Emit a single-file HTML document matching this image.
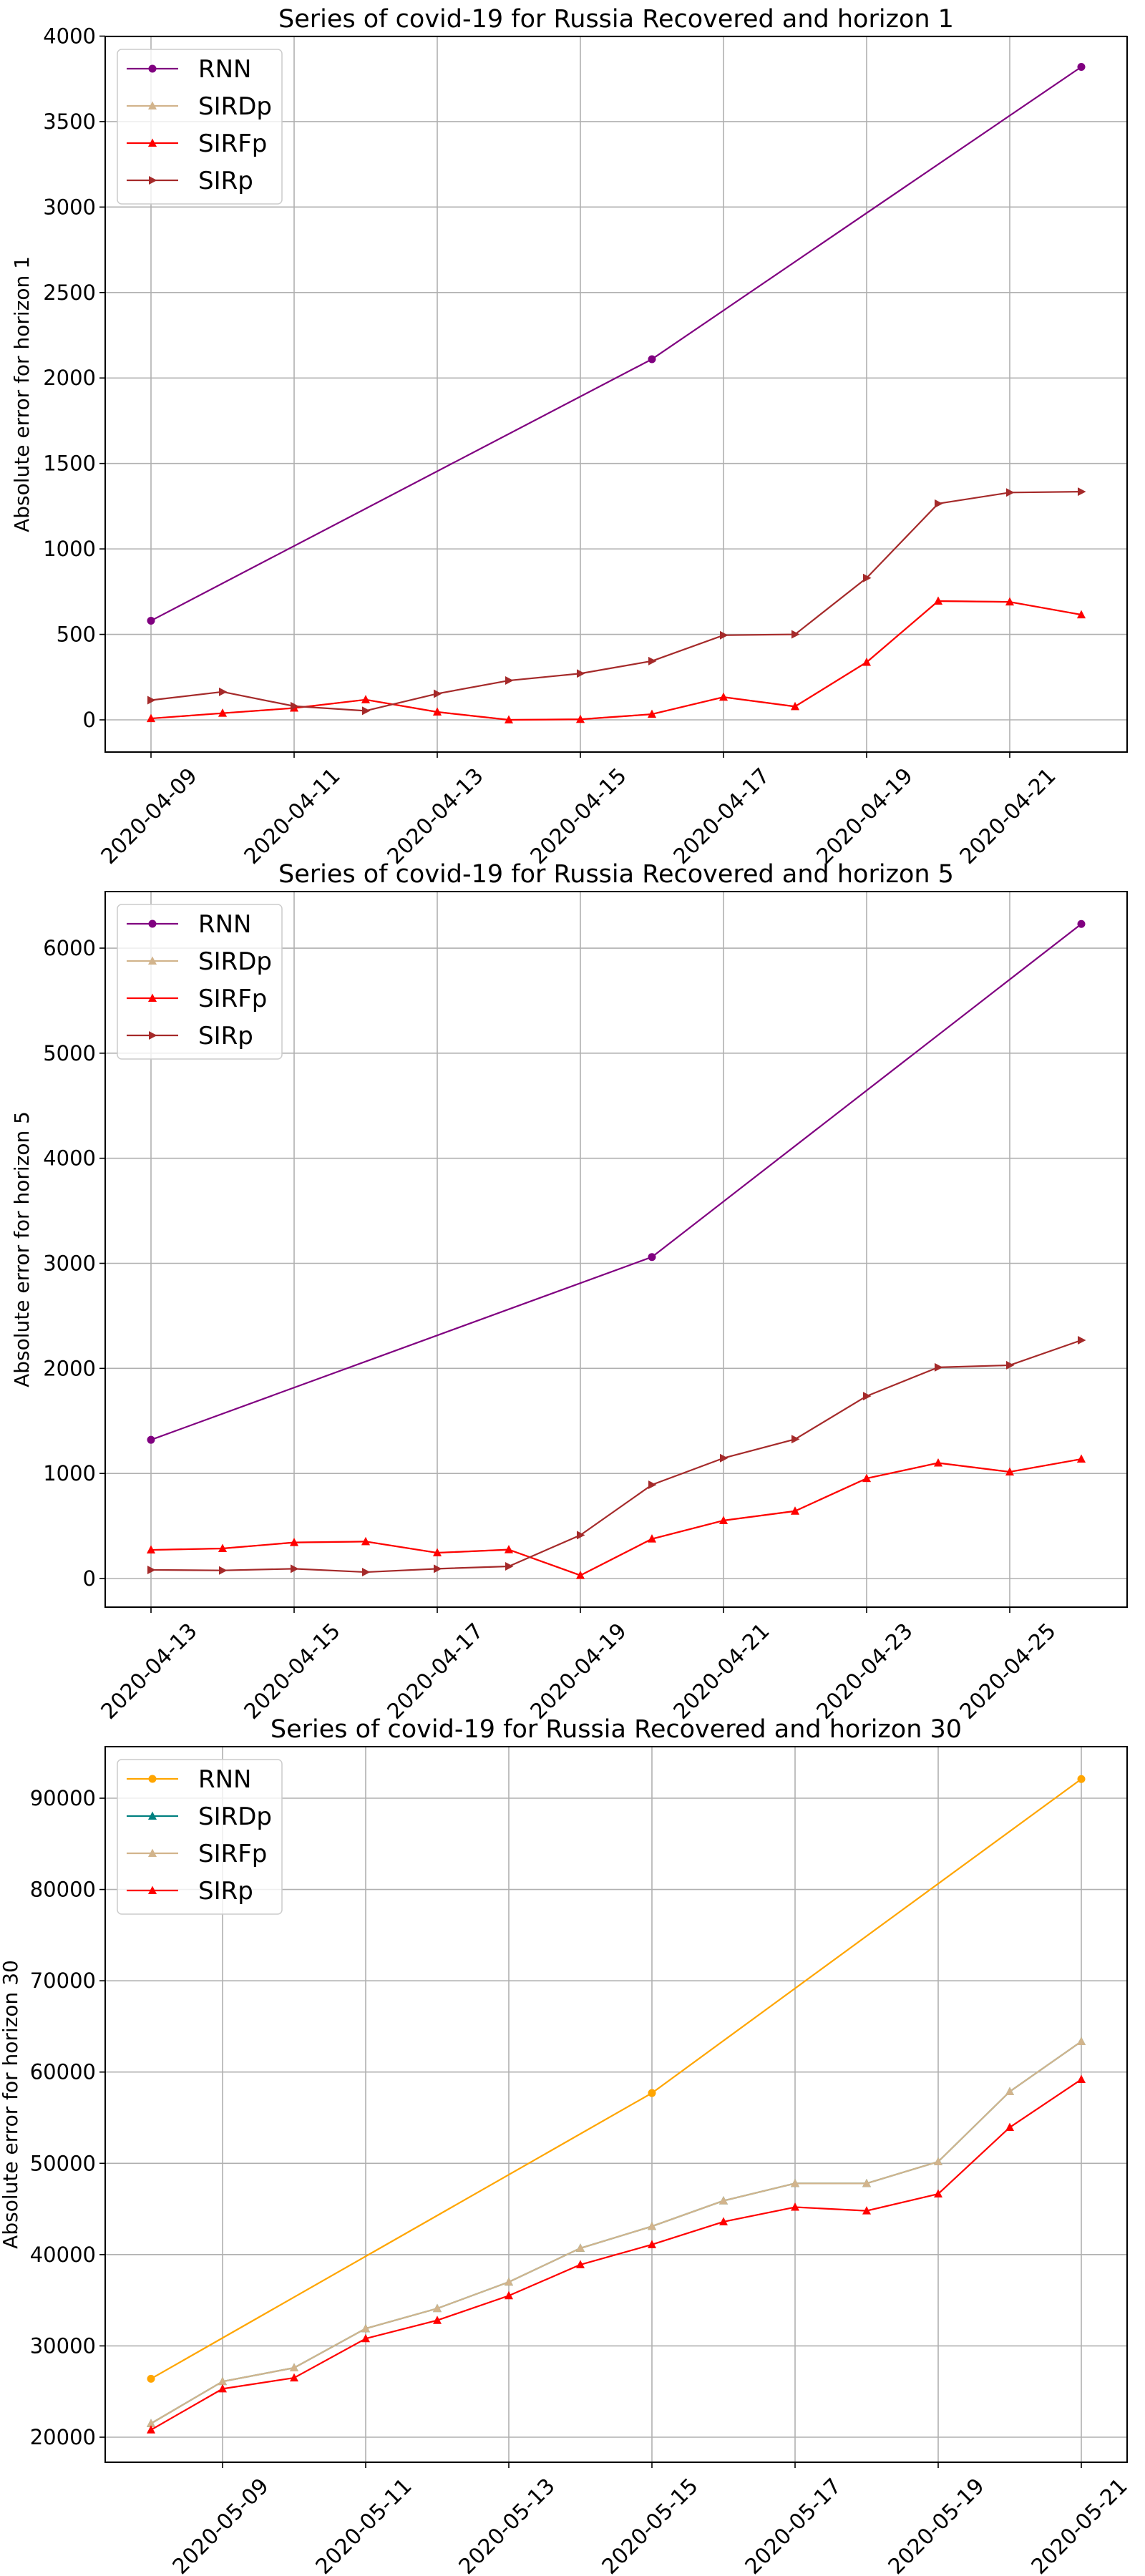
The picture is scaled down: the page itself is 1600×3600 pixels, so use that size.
<!DOCTYPE html>
<html><head><meta charset="utf-8">
<style>
html,body{margin:0;padding:0;background:#fff;}
svg{display:block;font-family:"DejaVu Sans","Liberation Sans",sans-serif;}
</style></head>
<body>
<svg id="fig" width="1600" height="3600" viewBox="0 0 1600 3600" xmlns="http://www.w3.org/2000/svg"></svg>
<script>
// ---- Chart 1 data (horizon 1) ----
const dates1 = ["2020-04-09","2020-04-10","2020-04-11","2020-04-12","2020-04-13","2020-04-14","2020-04-15","2020-04-16","2020-04-17","2020-04-18","2020-04-19","2020-04-20","2020-04-21","2020-04-22"];
const ticks1 = ["2020-04-09","2020-04-11","2020-04-13","2020-04-15","2020-04-17","2020-04-19","2020-04-21"];
const yticks1 = [0,500,1000,1500,2000,2500,3000,3500,4000];
const rnnIdx1 = [0,7,13];
const rnn1 = [580,2110,3820];
const sirdp1 = [8,39,69,118,46,0,3,33,133,78,337,695,690,615];
const sirfp1 = [8,39,69,118,46,0,3,33,133,78,337,695,690,615];
const sirp1 = [115,164,80,53,153,230,271,344,495,500,830,1265,1330,1335];

// ---- Chart 2 data (horizon 5) ----
const dates2 = ["2020-04-13","2020-04-14","2020-04-15","2020-04-16","2020-04-17","2020-04-18","2020-04-19","2020-04-20","2020-04-21","2020-04-22","2020-04-23","2020-04-24","2020-04-25","2020-04-26"];
const ticks2 = ["2020-04-13","2020-04-15","2020-04-17","2020-04-19","2020-04-21","2020-04-23","2020-04-25"];
const yticks2 = [0,1000,2000,3000,4000,5000,6000];
const rnnIdx2 = [0,7,13];
const rnn2 = [1320,3060,6230];
const sirdp2 = [272,286,343,352,245,275,30,377,552,642,953,1100,1015,1137];
const sirfp2 = [272,286,343,352,245,275,30,377,552,642,953,1100,1015,1137];
const sirp2 = [82,77,93,61,93,116,413,892,1146,1326,1736,2010,2030,2268];

// ---- Chart 3 data (horizon 30) ----
const dates3 = ["2020-05-08","2020-05-09","2020-05-10","2020-05-11","2020-05-12","2020-05-13","2020-05-14","2020-05-15","2020-05-16","2020-05-17","2020-05-18","2020-05-19","2020-05-20","2020-05-21"];
const ticks3 = ["2020-05-09","2020-05-11","2020-05-13","2020-05-15","2020-05-17","2020-05-19","2020-05-21"];
const yticks3 = [20000,30000,40000,50000,60000,70000,80000,90000];
const rnnIdx3 = [0,7,13];
const rnn3 = [26400,57700,92100];
const sirdp3 = [21500,26100,27600,31900,34100,37000,40700,43100,45900,47800,47800,50180,57860,63350];
const sirfp3 = [21500,26100,27600,31900,34100,37000,40700,43100,45900,47800,47800,50180,57860,63350];
const sirp3 = [20800,25300,26500,30800,32800,35500,38900,41100,43600,45200,44800,46650,53940,59190];

const NS = "http://www.w3.org/2000/svg";
const fig = document.getElementById('fig');
function mk(tag, attrs, parent){
  const e = document.createElementNS(NS, tag);
  for (const k in attrs) e.setAttribute(k, attrs[k]);
  (parent||fig).appendChild(e);
  return e;
}

function marker(g, shape, cx, cy, color){
  let e;
  if (shape === 'o') {
    e = mk('circle', {cx:cx, cy:cy, r:5.5, fill:color}, g);
  } else if (shape === '^') {
    e = mk('polygon', {points:`${cx},${cy-6.5} ${cx-6},${cy+5} ${cx+6},${cy+5}`, fill:color}, g);
  } else {
    e = mk('polygon', {points:`${cx+6.5},${cy} ${cx-5},${cy-6} ${cx-5},${cy+6}`, fill:color}, g);
  }
  
  
}

function chart(o){
  const L = 147, R = 1575, T = o.top, B = o.top + 1000;
  const xDay = i => 211 + i*100;
  const yv = v => o.y0px - (v - o.y0val) * o.scale;
  const g = mk('g', {});
  
  

  const title = mk('text', {x:(L+R)/2, y:T-13, 'text-anchor':'middle', 'font-size':35, fill:'#000'}, g);
  title.textContent = o.title;
  
  

  const dates = o.dates;
  o.ticks.forEach(t => {
    const x = xDay(dates.indexOf(t));
    const gl = mk('line', {x1:x, x2:x, y1:T, y2:B, stroke:'#b0b0b0', 'stroke-width':1.6}, g);
    
    
    mk('line', {x1:x, x2:x, y1:B, y2:B+8, stroke:'#000', 'stroke-width':1.6}, g);
    const tx = x + 66, ty = B + 35;
    const lab = mk('text', {x:tx, y:ty, 'text-anchor':'end', 'font-size':30, transform:`rotate(-45 ${tx} ${ty})`}, g);
    lab.textContent = t;
    
    
  });
  o.yticks.forEach(v => {
    const y = yv(v);
    const gl = mk('line', {x1:L, x2:R, y1:y, y2:y, stroke:'#b0b0b0', 'stroke-width':1.6}, g);
    
    
    mk('line', {x1:L-8, x2:L, y1:y, y2:y, stroke:'#000', 'stroke-width':1.6}, g);
    const lab = mk('text', {x:L-13, y:y+10, 'text-anchor':'end', 'font-size':29}, g);
    lab.textContent = String(v);
    
    
  });
  const yl = mk('text', {x:0, y:0, 'text-anchor':'middle', 'font-size':28, transform:`translate(${o.ylx} ${(T+B)/2}) rotate(-90)`}, g);
  yl.textContent = o.ylabel;
  
  

  o.series.forEach(s => {
    const sg = mk('g', {}, g);
    
    
    const pts = s.vals.map((v,k) => [xDay(s.idx ? s.idx[k] : k), yv(v)]);
    const pl = mk('polyline', {points:pts.map(p=>p.join(',')).join(' '), fill:'none', stroke:s.color, 'stroke-width':2.2, 'stroke-linejoin':'round'}, sg);
    
    
    pts.forEach(p => marker(sg, s.shape, p[0], p[1], s.color));
  });

  const fr = mk('rect', {x:L, y:T, width:R-L, height:B-T, fill:'none', stroke:'#000', 'stroke-width':2}, g);
  
  

  const lg = mk('g', {}, g);
  
  
  const lx = 164, ly = T + 18;
  mk('rect', {x:lx, y:ly, width:230, height:216, rx:6, fill:'#fff', 'fill-opacity':0.8, stroke:'#ccc', 'stroke-width':1.5}, lg);
  o.series.slice().sort((a,b)=>a.order-b.order).forEach((s,k) => {
    const cy = ly + 27 + k*52;
    const le = mk('g', {}, lg);
    
    
    mk('line', {x1:lx+13, x2:lx+85, y1:cy, y2:cy, stroke:s.color, 'stroke-width':2.2}, le);
    marker(le, s.shape, lx+49, cy, s.color);
    const t = mk('text', {x:lx+113, y:cy+12, 'font-size':34}, le);
    t.textContent = s.label;
  });
}

chart({name:'chart-horizon-1', top:51, title:'Series of covid-19 for Russia Recovered and horizon 1',
  dates:dates1, ticks:ticks1, yticks:yticks1, y0px:1006, y0val:0, scale:0.23888, ylx:40,
  ylabel:'Absolute error for horizon 1',
  series:[
    {label:'SIRDp', order:1, vals:sirdp1, color:'#d2b48c', shape:'^'},
    {label:'SIRFp', order:2, vals:sirfp1, color:'#ff0000', shape:'^'},
    {label:'SIRp', order:3, vals:sirp1, color:'#a52a2a', shape:'>'},
    {label:'RNN', order:0, vals:rnn1, idx:rnnIdx1, color:'#800080', shape:'o'}
  ]});
chart({name:'chart-horizon-5', top:1246, title:'Series of covid-19 for Russia Recovered and horizon 5',
  dates:dates2, ticks:ticks2, yticks:yticks2, y0px:2206, y0val:0, scale:0.14683, ylx:40,
  ylabel:'Absolute error for horizon 5',
  series:[
    {label:'SIRDp', order:1, vals:sirdp2, color:'#d2b48c', shape:'^'},
    {label:'SIRFp', order:2, vals:sirfp2, color:'#ff0000', shape:'^'},
    {label:'SIRp', order:3, vals:sirp2, color:'#a52a2a', shape:'>'},
    {label:'RNN', order:0, vals:rnn2, idx:rnnIdx2, color:'#800080', shape:'o'}
  ]});
chart({name:'chart-horizon-30', top:2441, title:'Series of covid-19 for Russia Recovered and horizon 30',
  dates:dates3, ticks:ticks3, yticks:yticks3, y0px:3406, y0val:20000, scale:0.012757, ylx:24,
  ylabel:'Absolute error for horizon 30',
  series:[
    {label:'SIRDp', order:1, vals:sirdp3, color:'#008080', shape:'^'},
    {label:'SIRFp', order:2, vals:sirfp3, color:'#d2b48c', shape:'^'},
    {label:'SIRp', order:3, vals:sirp3, color:'#ff0000', shape:'^'},
    {label:'RNN', order:0, vals:rnn3, idx:rnnIdx3, color:'#ffa500', shape:'o'}
  ]});
</script>
</body></html>
